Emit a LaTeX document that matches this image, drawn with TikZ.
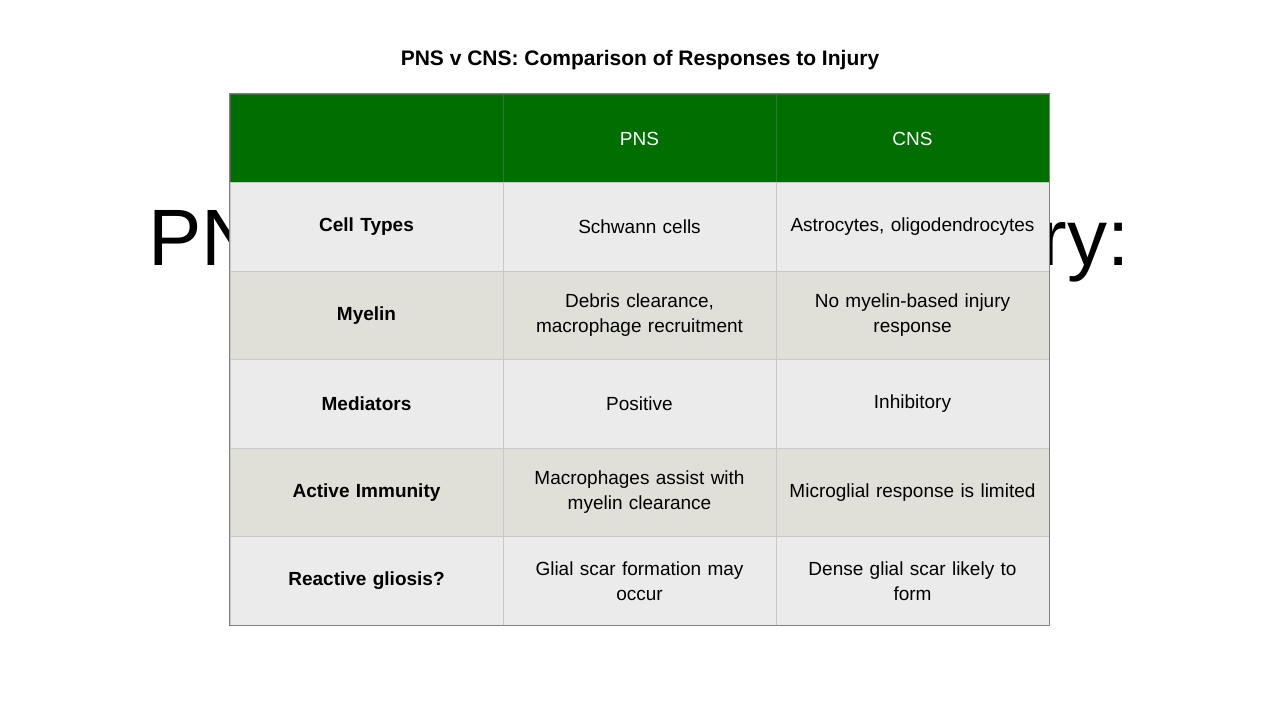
\documentclass[tikz,border=0pt]{standalone}
\usepackage{fontspec}
\setmainfont{Liberation Sans}
\usetikzlibrary{positioning}
\definecolor{hdgreen}{RGB}{0,110,0}
\definecolor{rowA}{RGB}{235,235,235}
\definecolor{rowB}{RGB}{224,224,217}
\definecolor{gridgray}{RGB}{200,200,200}
\begin{document}
\begin{tikzpicture}[x=1pt,y=-1pt,
    cell/.style={rectangle, draw=gridgray, line width=1pt, minimum width=273pt, minimum height=88.5pt, inner sep=2pt, align=center, text width=265pt, font=\fontsize{19}{25}\selectfont},
    head/.style={cell, fill=hdgreen, draw=hdgreen!60!gray, text=white},
    odd/.style={cell, fill=rowA},
    even/.style={cell, fill=rowB},
    lab/.style={font=\fontsize{19}{25}\selectfont\bfseries}
]
    \useasboundingbox (0,0) rectangle (1280,720);
    \fill[white] (0,0) rectangle (1280,720);

    % background slide title
    \node[anchor=base west, inner sep=0pt, font=\fontsize{80}{80}\selectfont] (bgl) at (148,265) {PN};
    \node[anchor=base east, inner sep=0pt, font=\fontsize{80}{80}\selectfont] (bgr) at (1130,265) {ry:};

    % title
    \node[font=\fontsize{21}{25}\selectfont\bfseries] (title) at (640,60) {PNS v CNS: Comparison of Responses to Injury};

    % header
    \node[head] (h0) at (366.5,138.5) {};
    \node[head] (h1) at (639.5,138.5) {PNS};
    \node[head] (h2) at (912.5,138.5) {CNS};

    % rows
    \node[odd] (r1c0) at (366.5,227) {\bfseries Cell Types};
    \node[odd] (r1c1) at (639.5,227) {Schwann cells};
    \node[odd] (r1c2) at (912.5,227) {Astrocytes, oligodendrocytes};

    \node[even] (r2c0) at (366.5,315.5) {\bfseries Myelin};
    \node[even] (r2c1) at (639.5,315.5) {Debris clearance,\\macrophage recruitment};
    \node[even] (r2c2) at (912.5,315.5) {No myelin-based injury\\response};

    \node[odd] (r3c0) at (366.5,404) {\bfseries Mediators};
    \node[odd] (r3c1) at (639.5,404) {Positive};
    \node[odd] (r3c2) at (912.5,404) {Inhibitory};

    \node[even] (r4c0) at (366.5,492.5) {\bfseries Active Immunity};
    \node[even] (r4c1) at (639.5,492.5) {Macrophages assist with\\myelin clearance};
    \node[even] (r4c2) at (912.5,492.5) {Microglial response is limited};

    \node[odd] (r5c0) at (366.5,581) {\bfseries Reactive gliosis?};
    \node[odd] (r5c1) at (639.5,581) {Glial scar formation may\\occur};
    \node[odd] (r5c2) at (912.5,581) {Dense glial scar likely to\\form};

    % outer border
    \draw[gray, line width=1pt] (h0.north west) rectangle (r5c2.south east);
\end{tikzpicture}
\end{document}
